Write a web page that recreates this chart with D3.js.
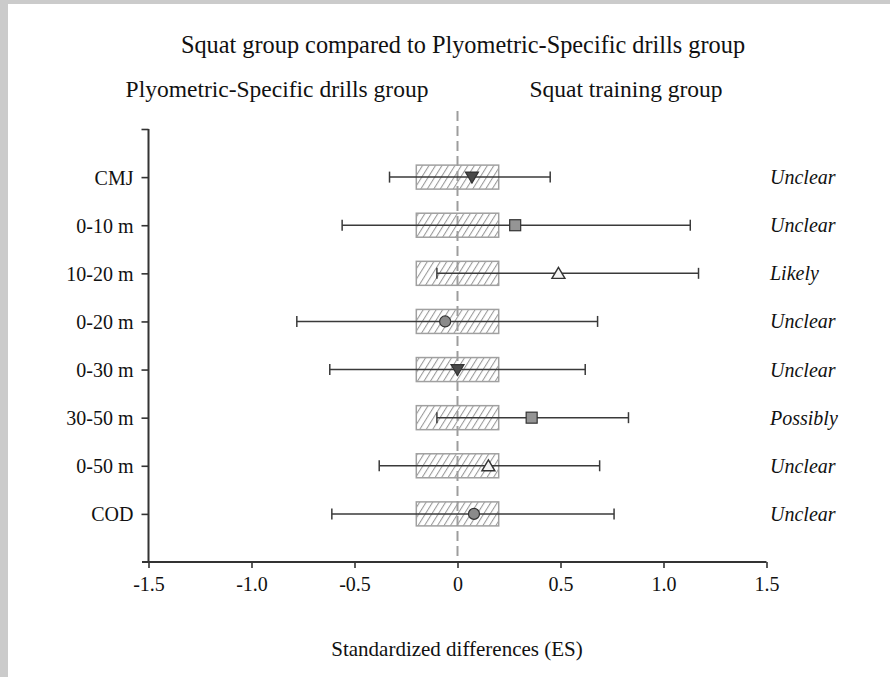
<!DOCTYPE html>
<html>
<head>
<meta charset="utf-8">
<script src="https://cdn.jsdelivr.net/npm/d3@7"></script>
<style>
  html, body { margin: 0; padding: 0; background: #cbcbcb; }
  svg { display: block; }
</style>
</head>
<body>
<script>
// ---- data ----
const categories = ["CMJ", "0-10 m", "10-20 m", "0-20 m", "0-30 m", "30-50 m", "0-50 m", "COD"];
const estimates  = [0.07, 0.28, 0.49, -0.06, 0.00, 0.36, 0.15, 0.08];
const lowerCI    = [-0.33, -0.56, -0.10, -0.78, -0.62, -0.10, -0.38, -0.61];
const upperCI    = [0.45, 1.13, 1.17, 0.68, 0.62, 0.83, 0.69, 0.76];
const markerType = ["tri-down", "square", "tri-up", "circle", "tri-down", "square", "tri-up", "circle"];
const inferences = ["Unclear", "Unclear", "Likely", "Unclear", "Unclear", "Possibly", "Unclear", "Unclear"];
const xTicks     = [-1.5, -1.0, -0.5, 0, 0.5, 1.0, 1.5];
const xTickLabels = ["-1.5", "-1.0", "-0.5", "0", "0.5", "1.0", "1.5"];
const trivialZone = [-0.2, 0.2];
const title = "Squat group compared to Plyometric-Specific drills group";
const leftHeader = "Plyometric-Specific drills group";
const rightHeader = "Squat training group";
const xTitle = "Standardized differences (ES)";

const W = 890, H = 677;
const svg = d3.select("body").append("svg").attr("width", W).attr("height", H);
const font = "'Liberation Serif', 'Times New Roman', serif";

// background panel
svg.append("rect").attr("x", 8).attr("y", 4).attr("width", W - 8).attr("height", H - 4).attr("fill", "#fff");

const x = d3.scaleLinear().domain([-1.5, 1.5]).range([148.5, 766.5]);
const y = d3.scaleLinear().domain([0, 9]).range([129, 562]);
const rowY = i => y(i + 1);

// hatch pattern
const defs = svg.append("defs");
const pat = defs.append("pattern").attr("id", "hatch").attr("patternUnits", "userSpaceOnUse")
  .attr("width", 5.5).attr("height", 6).attr("patternTransform", "rotate(32)");
pat.append("rect").attr("width", 5.5).attr("height", 6).attr("fill", "#fff");
pat.append("line").attr("x1", 0.5).attr("y1", 0).attr("x2", 0.5).attr("y2", 6)
  .attr("stroke", "#9a9a9a").attr("stroke-width", 1.1);

// titles
svg.append("text").attr("x", 463).attr("y", 53).attr("text-anchor", "middle")
  .attr("font-family", font).attr("font-size", 24.3).attr("fill", "#111").text(title);
svg.append("text").attr("x", 277).attr("y", 97).attr("text-anchor", "middle")
  .attr("font-family", font).attr("font-size", 23.5).attr("fill", "#111").text(leftHeader);
svg.append("text").attr("x", 626).attr("y", 97).attr("text-anchor", "middle")
  .attr("font-family", font).attr("font-size", 23.5).attr("fill", "#111").text(rightHeader);

// trivial boxes
svg.append("g").selectAll("rect").data(categories).join("rect")
  .attr("x", x(trivialZone[0])).attr("width", x(trivialZone[1]) - x(trivialZone[0]))
  .attr("y", (d, i) => rowY(i) - 12).attr("height", 24)
  .attr("fill", "url(#hatch)").attr("stroke", "#a0a0a0").attr("stroke-width", 1.5);

// dashed zero line
svg.append("line").attr("x1", x(0)).attr("x2", x(0)).attr("y1", 111).attr("y2", y(9))
  .attr("stroke", "#9d9d9d").attr("stroke-width", 2).attr("stroke-dasharray", "10,5");

// whiskers
const wg = svg.append("g").attr("stroke", "#3a3a3a").attr("stroke-width", 1.5);
categories.forEach((c, i) => {
  const yy = rowY(i);
  wg.append("line").attr("x1", x(lowerCI[i])).attr("x2", x(upperCI[i])).attr("y1", yy).attr("y2", yy);
  [lowerCI[i], upperCI[i]].forEach(v => {
    wg.append("line").attr("x1", x(v)).attr("x2", x(v)).attr("y1", yy - 5.5).attr("y2", yy + 5.5);
  });
});

// markers
const mg = svg.append("g");
categories.forEach((c, i) => {
  const cx = x(estimates[i]), cy = rowY(i), t = markerType[i];
  if (t === "circle") {
    mg.append("circle").attr("cx", cx).attr("cy", cy).attr("r", 5.5)
      .attr("fill", "#8a8a8a").attr("stroke", "#333").attr("stroke-width", 1.2);
  } else if (t === "square") {
    mg.append("rect").attr("x", cx - 5.5).attr("y", cy - 5.5).attr("width", 11).attr("height", 11)
      .attr("fill", "#959595").attr("stroke", "#333").attr("stroke-width", 1.2);
  } else if (t === "tri-up") {
    mg.append("path").attr("d", `M${cx},${cy - 6} L${cx + 6.5},${cy + 5} L${cx - 6.5},${cy + 5} Z`)
      .attr("fill", "#f4f4f4").attr("stroke", "#333").attr("stroke-width", 1.4);
  } else {
    mg.append("path").attr("d", `M${cx},${cy + 6} L${cx + 6.5},${cy - 5} L${cx - 6.5},${cy - 5} Z`)
      .attr("fill", "#4a4a4a").attr("stroke", "#333").attr("stroke-width", 1.2);
  }
});

// axes
const axColor = "#333";
const xAxis = d3.axisBottom(x).tickValues(xTicks).tickFormat((d, i) => xTickLabels[i]).tickSize(6).tickSizeOuter(0);
const gx = svg.append("g").attr("transform", `translate(0,${y(9)})`).call(xAxis);
gx.select(".domain").remove();
gx.append("line").attr("x1", 142).attr("x2", x(1.5)).attr("y1", 0).attr("y2", 0)
  .attr("stroke", axColor).attr("stroke-width", 2);
gx.selectAll(".tick line").attr("stroke", axColor).attr("stroke-width", 1.6);
gx.selectAll(".tick text").attr("font-family", font).attr("font-size", 20).attr("fill", "#111").attr("dy", "1.0em");

const yAxis = d3.axisLeft(y).tickValues(d3.range(0, 9)).tickFormat((d) => d === 0 ? "" : categories[d - 1]).tickSize(7).tickSizeOuter(0);
const gy = svg.append("g").attr("transform", `translate(${x(-1.5)},0)`).call(yAxis);
gy.select(".domain").remove();
gy.append("line").attr("x1", 0).attr("x2", 0).attr("y1", y(0)).attr("y2", y(9))
  .attr("stroke", axColor).attr("stroke-width", 2);
gy.selectAll(".tick line").attr("stroke", axColor).attr("stroke-width", 1.6);
gy.selectAll(".tick text").attr("font-family", font).attr("font-size", 20).attr("fill", "#111")
  .attr("x", -15).attr("dy", "0.35em");

// inference labels
svg.append("g").selectAll("text").data(inferences).join("text")
  .attr("x", 770).attr("y", (d, i) => rowY(i)).attr("dy", "0.35em")
  .attr("font-family", font).attr("font-style", "italic").attr("font-size", 20).attr("fill", "#111")
  .text(d => d);

// x title
svg.append("text").attr("x", 457).attr("y", 656).attr("text-anchor", "middle")
  .attr("font-family", font).attr("font-size", 21).attr("fill", "#111").text(xTitle);
</script>
</body>
</html>
